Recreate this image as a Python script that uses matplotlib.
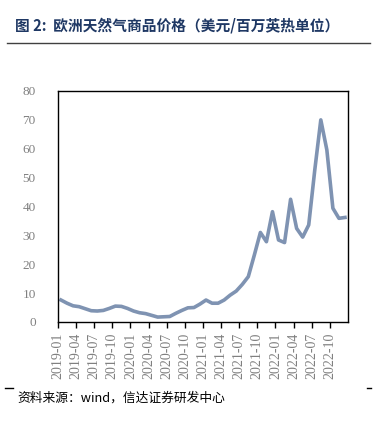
import numpy as np
import matplotlib.pyplot as plt
from matplotlib.lines import Line2D

plt.rcParams['font.family'] = ['Noto Sans CJK SC', 'DejaVu Sans']

months = [f'{y}-{m:02d}' for y in range(2019, 2023) for m in range(1, 13)]
price = [7.6, 6.5, 5.6, 5.3, 4.6, 3.9, 3.8, 4.0, 4.7, 5.5, 5.4, 4.7,
         3.8, 3.2, 2.9, 2.3, 1.7, 1.8, 1.9, 3.0, 4.0, 4.9, 5.0, 6.2,
         7.6, 6.5, 6.5, 7.6, 9.3, 10.7, 13.0, 15.7, 23.2, 31.0, 27.8, 38.2,
         28.4, 27.5, 42.5, 32.4, 29.4, 33.6, 52.6, 70.0, 59.6, 39.4, 35.9, 36.2]

fig = plt.figure(figsize=(3.83, 4.25), dpi=100)
ax = fig.add_axes([0.1514, 0.2424, 0.7572, 0.5435])

x = np.arange(len(price))
ax.plot(x, price, color='#7f93b2', lw=2.6, solid_joinstyle='round')

ax.set_xlim(-0.5, len(price) - 0.5)
ax.set_ylim(0, 80)
ax.set_yticks(range(0, 81, 10))
ax.set_xticks(x[::3] - 0.5)
ax.set_xticklabels(months[::3], rotation=90)

for lab in ax.get_xticklabels():
    lab.set_fontfamily('Liberation Serif')
    lab.set_fontsize(10)
    lab.set_color('#808080')
for lab in ax.get_yticklabels():
    lab.set_fontfamily('Liberation Serif')
    lab.set_fontsize(9.5)
    lab.set_color('#808080')
ax.tick_params(axis='y', length=0, pad=16)
ax.tick_params(axis='x', length=4, width=1, direction='out', pad=4, color='black')
for s in ax.spines.values():
    s.set_linewidth(1)
    s.set_color('black')

fig.text(0.04, 0.94, '图 2:  欧洲天然气商品价格（美元/百万英热单位）',
         fontsize=10.6, fontweight='bold', color='#1f3864', va='center')
fig.add_artist(Line2D([0.018, 0.967], [0.899, 0.899], color='#404040', lw=1))

fig.text(0.045, 0.064, '资料来源：wind，信达证券研发中心', fontsize=9.2,
         style='italic', color='black', va='center')
fig.add_artist(Line2D([0.013, 0.034], [0.088, 0.088], color='black', lw=1))
fig.add_artist(Line2D([0.958, 0.969], [0.088, 0.088], color='black', lw=1))

fig.savefig('out.png', dpi=100)
